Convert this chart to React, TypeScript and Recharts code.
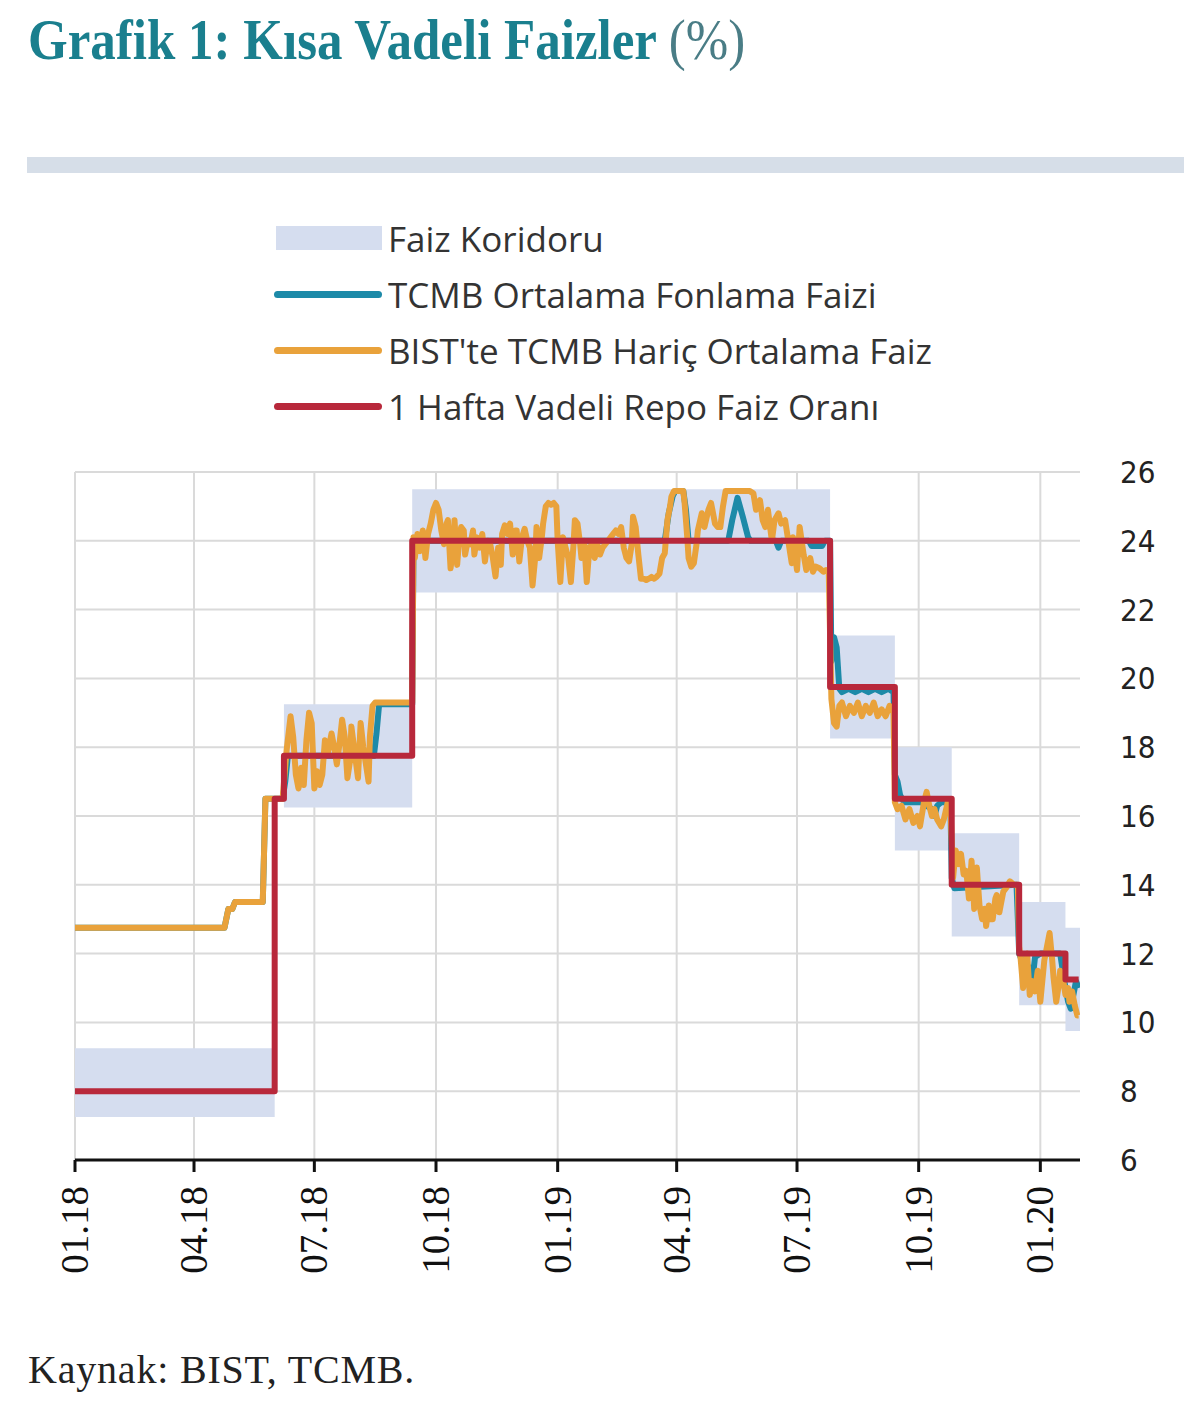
import React from 'react';
import { ComposedChart, Line, Area, XAxis, YAxis, CartesianGrid } from 'recharts';

// x values are days counted from 01.01.2018
const tickDays = [0, 90, 181, 273, 365, 455, 546, 638, 730];
const tickLabels = ['01.18', '04.18', '07.18', '10.18', '01.19', '04.19', '07.19', '10.19', '01.20'];
const yTicks = [6, 8, 10, 12, 14, 16, 18, 20, 22, 24, 26];

const corridorDays = [0, 151, 158, 255, 571, 620, 663, 714, 749, 760];
const corridorLow = [7.25, 16.5, 16.25, 22.5, 18.25, 15, 12.5, 10.5, 9.75, 9.75];
const corridorHigh = [9.25, 16.5, 19.25, 25.5, 21.25, 18, 15.5, 13.5, 12.75, 12.75];

const repoDays = [0, 151, 158, 255, 571, 620, 663, 714, 749, 759];
const repoRates = [8, 16.5, 17.75, 24, 19.75, 16.5, 14, 12, 11.25, 11.25];

const tcmbPoints: [number, number][] = [
  [0, 12.75], [113, 12.75], [116, 13.3], [119, 13.3], [121, 13.5], [142, 13.5], [144, 16.5], [157, 16.5],
  [159, 17.0], [161, 17.75], [226, 17.75], [228, 18.4], [230, 19.25], [255, 19.25], [256, 24.0],
  [446, 24.0], [449, 24.8], [452, 25.3], [454, 25.45], [460, 25.45], [462, 24.9], [464, 24.0],
  [494, 24.0], [497, 24.6], [501, 25.25], [505, 24.7], [509, 24.1], [511, 24.0], [530, 24.0],
  [532, 23.8], [534, 24.0], [555, 24.0], [557, 23.85], [565, 23.85], [567, 24.0], [571, 24.0],
  [572, 20.5], [574, 21.2], [576, 20.9], [578, 19.7], [580, 19.6], [585, 19.7], [590, 19.6],
  [595, 19.7], [600, 19.6], [605, 19.7], [610, 19.6], [615, 19.7], [619, 19.6], [620, 17.2],
  [622, 17.0], [624, 16.6], [627, 16.4], [640, 16.4], [648, 16.2], [650, 16.0], [652, 16.3],
  [655, 16.4], [662, 16.4], [663, 14.2], [665, 13.9], [712, 14.0], [714, 12.0], [716, 11.8],
  [718, 11.2], [720, 11.3], [722, 11.6], [724, 11.2], [726, 11.9], [730, 12.0], [745, 12.0],
  [747, 11.5], [749, 11.0], [751, 10.6], [753, 10.4], [755, 10.8], [757, 11.2], [759, 11.0],
];

const bistPoints: [number, number][] = [
  [0, 12.75], [113, 12.75], [116, 13.3], [119, 13.3], [121, 13.5], [142, 13.5], [144, 16.5], [157, 16.5],
  [160, 17.9], [163, 18.9], [165, 18.3], [167, 17.2], [169, 16.8], [171, 17.4], [173, 16.9], [175, 18.2],
  [177, 19.0], [179, 18.7], [181, 16.8], [183, 17.3], [185, 16.9], [187, 17.2], [189, 18.2], [191, 17.8],
  [194, 18.4], [196, 18.0], [198, 17.5], [200, 18.1], [202, 18.8], [204, 18.3], [206, 17.1], [208, 17.6],
  [209, 18.6], [211, 18.0], [213, 17.4], [214, 17.1], [216, 18.7], [218, 18.0], [220, 17.5], [222, 17.0],
  [223, 18.3], [225, 19.2], [227, 19.3], [240, 19.3], [255, 19.3],
  [256, 24.1], [257, 23.5], [259, 24.2], [261, 23.7], [263, 24.3], [265, 23.5], [267, 24.2], [269, 24.5],
  [271, 24.9], [273, 25.1], [275, 24.9], [277, 24.3], [279, 23.9], [281, 24.5], [282, 24.6], [284, 23.2],
  [286, 23.8], [287, 24.6], [289, 23.3], [290, 23.8], [292, 24.4], [294, 24.3], [295, 23.6], [297, 24.0],
  [299, 23.9], [301, 24.3], [302, 23.6], [304, 24.1], [306, 23.8], [308, 24.2], [310, 23.4], [312, 24.0],
  [314, 23.9], [316, 23.5], [318, 22.96], [320, 23.8], [322, 23.3], [323, 24.2], [325, 24.45], [327, 24.2],
  [329, 24.5], [331, 23.6], [333, 24.3], [334, 24.3], [336, 23.4], [338, 24.1], [340, 24.35], [342, 24.0],
  [344, 23.8], [346, 22.7], [348, 23.5], [349, 24.4], [351, 23.5], [353, 24.1], [354, 24.5], [356, 25.0],
  [358, 25.1], [360, 25.05], [362, 25.1], [364, 25.0], [365, 24.0], [367, 22.8], [369, 24.1], [371, 23.8],
  [373, 23.5], [375, 22.8], [377, 23.9], [378, 24.6], [380, 24.5], [382, 23.9], [383, 23.5], [385, 24.0],
  [387, 22.8], [389, 23.8], [391, 23.9], [393, 23.5], [395, 23.9], [397, 23.6], [399, 23.8], [401, 23.9],
  [403, 24.0], [405, 24.1], [407, 24.2], [409, 24.3], [411, 24.2], [413, 24.4], [415, 23.8], [417, 23.5],
  [419, 23.4], [421, 23.9], [422, 24.7], [424, 24.4], [426, 23.6], [428, 22.9], [430, 22.9], [432, 22.86],
  [434, 22.9], [436, 22.95], [438, 22.9], [440, 22.96], [442, 23.05], [444, 23.5], [446, 23.64], [448, 24.6],
  [450, 25.0], [451, 25.28], [453, 25.45], [456, 25.45], [460, 25.45], [461, 25.1], [463, 24.1], [464, 23.5],
  [466, 23.25], [468, 23.35], [470, 23.9], [471, 24.3], [474, 24.8], [476, 24.4], [479, 24.9], [481, 25.1],
  [484, 24.5], [486, 24.4], [488, 24.4], [490, 25.0], [492, 25.45], [496, 25.45], [500, 25.45], [505, 25.45],
  [510, 25.45], [513, 25.38], [515, 24.9], [518, 25.18], [520, 24.6], [522, 24.4], [524, 24.9], [527, 24.0],
  [529, 24.6], [532, 24.8], [534, 24.5], [537, 24.6], [539, 24.1], [541, 23.6], [542, 23.35], [543, 24.1],
  [546, 23.15], [548, 24.4], [551, 23.6], [553, 23.15], [556, 23.5], [558, 23.1], [560, 23.25], [563, 23.2],
  [566, 23.1], [568, 23.15], [570, 23.1],
  [572, 19.4], [574, 18.7], [576, 18.6], [578, 19.2], [580, 19.3], [583, 18.9], [586, 19.2], [589, 19.0],
  [592, 19.3], [595, 18.9], [598, 19.2], [601, 19.0], [604, 19.3], [607, 18.9], [610, 19.1], [613, 18.9],
  [616, 19.2], [619, 19.0],
  [620, 16.4], [622, 16.2], [625, 16.3], [628, 15.9], [631, 16.2], [634, 15.8], [637, 16.0], [639, 15.7],
  [642, 16.4], [644, 16.7], [646, 16.3], [648, 16.0], [650, 16.2], [652, 15.9], [655, 15.7], [657, 15.9],
  [660, 16.4], [662, 16.3],
  [664, 14.2], [666, 15.0], [668, 14.6], [670, 14.9], [672, 14.3], [674, 14.4], [676, 13.6], [678, 14.7],
  [680, 13.3], [682, 14.5], [684, 13.4], [686, 13.0], [688, 13.3], [689, 12.8], [691, 13.4], [692, 13.0],
  [694, 13.0], [696, 13.6], [697, 13.7], [699, 13.2], [700, 13.4], [702, 13.8], [704, 13.9], [707, 14.1],
  [710, 14.0], [713, 14.0],
  [714, 12.2], [715, 11.9], [717, 11.0], [719, 11.7], [720, 12.0], [722, 10.8], [724, 11.2], [726, 10.9],
  [728, 11.5], [730, 10.6], [731, 11.0], [733, 11.8], [735, 12.2], [737, 12.6], [739, 11.8], [740, 11.3],
  [742, 10.6], [744, 11.1], [745, 11.5], [747, 11.3], [749, 10.8], [751, 11.0], [752, 10.6], [754, 10.9],
  [756, 10.5], [758, 10.2], [759, 10.2],
];

const TEAL = '#1d8aa8';
const ORANGE = '#e9a23b';
const RED = '#b8283b';
const BAND = '#d5ddef';

const corridorData = corridorDays.map((d, i) => ({ d, band: [corridorLow[i], corridorHigh[i]] }));
const repoData = repoDays.map((d, i) => ({ d, v: repoRates[i] }));
const tcmbData = tcmbPoints.map(([d, v]) => ({ d, v }));
const bistData = bistPoints.map(([d, v]) => ({ d, v }));

const XTick = (props: any) => {
  const { x, y, payload } = props;
  const label = tickLabels[tickDays.indexOf(payload.value)];
  return (
    <g transform={`translate(${x},${y})`}>
      <text
        transform="rotate(-90)"
        x={-12}
        y={0}
        dy={13}
        textAnchor="end"
        fontFamily="'Liberation Serif', 'Times New Roman', serif"
        fontSize={39}
        fill="#111"
      >
        {label}
      </text>
    </g>
  );
};

const legendItems = [
  { name: 'Faiz Koridoru', color: BAND, patch: true },
  { name: 'TCMB Ortalama Fonlama Faizi', color: TEAL, patch: false },
  { name: "BIST'te TCMB Hariç Ortalama Faiz", color: ORANGE, patch: false },
  { name: '1 Hafta Vadeli Repo Faiz Oranı', color: RED, patch: false },
];

const App: React.FC = () => {
  return (
    <div style={{ position: 'absolute', left: 0, top: 0, width: 1200, height: 1408, background: '#fff' }}>
      <div
        style={{
          position: 'absolute',
          left: 28,
          top: 6,
          fontFamily: "'Liberation Serif', 'Times New Roman', serif",
          fontSize: 51,
          lineHeight: '62px',
          whiteSpace: 'nowrap',
          transform: 'scaleY(1.1)',
          transformOrigin: 'left top',
        }}
      >
        <span style={{ color: '#1a7f8e', fontWeight: 700 }}>Grafik 1: Kısa Vadeli Faizler </span>
        <span style={{ color: '#4a7d86' }}>(%)</span>
      </div>
      <div style={{ position: 'absolute', left: 27, top: 157, width: 1157, height: 16, background: '#d6dee8' }} />

      {legendItems.map((item, i) => (
        <div key={item.name} style={{ position: 'absolute', left: 274, top: 216 + i * 56, height: 44, display: 'flex', alignItems: 'center' }}>
          {item.patch ? (
            <div style={{ width: 106, height: 24, background: item.color, marginLeft: 2 }} />
          ) : (
            <div style={{ width: 108, height: 7, borderRadius: 3.5, background: item.color }} />
          )}
          <span
            style={{
              marginLeft: 6,
              fontFamily: "'Open Sans', sans-serif",
              fontSize: 35,
              color: '#333',
              whiteSpace: 'nowrap',
            }}
          >
            {item.name}
          </span>
        </div>
      ))}

      <div style={{ position: 'absolute', left: 0, top: 440 }}>
        <ComposedChart width={1200} height={860} margin={{ top: 32, right: 40, bottom: 20, left: 75 }}>
          <CartesianGrid stroke="#dadada" strokeWidth={2} syncWithTicks verticalValues={tickDays} horizontalValues={yTicks} />
          <XAxis
            dataKey="d"
            type="number"
            domain={[0, 760]}
            ticks={tickDays}
            height={120}
            axisLine={{ stroke: '#111', strokeWidth: 3 }}
            tickLine={{ stroke: '#111', strokeWidth: 3 }}
            tickSize={12}
            tick={<XTick />}
            interval={0}
            allowDataOverflow
          />
          <YAxis
            orientation="right"
            type="number"
            domain={[6, 26]}
            ticks={yTicks}
            width={80}
            axisLine={false}
            tickLine={false}
            tickMargin={34}
            interval={0}
            tick={{ fill: '#222', fontSize: 31, fontFamily: "'DejaVu Sans Condensed', 'DejaVu Sans', sans-serif" }}
          />
          <Area
            data={corridorData}
            dataKey="band"
            type="stepAfter"
            fill={BAND}
            fillOpacity={1}
            stroke="none"
            isAnimationActive={false}
          />
          <Line data={tcmbData} dataKey="v" type="linear" stroke={TEAL} strokeWidth={6} dot={false} strokeLinejoin="round" isAnimationActive={false} />
          <Line data={bistData} dataKey="v" type="linear" stroke={ORANGE} strokeWidth={6} dot={false} strokeLinejoin="round" isAnimationActive={false} />
          <Line data={repoData} dataKey="v" type="stepAfter" stroke={RED} strokeWidth={6} dot={false} strokeLinejoin="round" isAnimationActive={false} />
        </ComposedChart>
      </div>

      <div
        style={{
          position: 'absolute',
          left: 28,
          top: 1346,
          fontFamily: "'Liberation Serif', 'Times New Roman', serif",
          fontSize: 40,
          letterSpacing: 0.8,
          color: '#222',
          whiteSpace: 'nowrap',
        }}
      >
        Kaynak: BIST, TCMB.
      </div>
    </div>
  );
};

export default App;
